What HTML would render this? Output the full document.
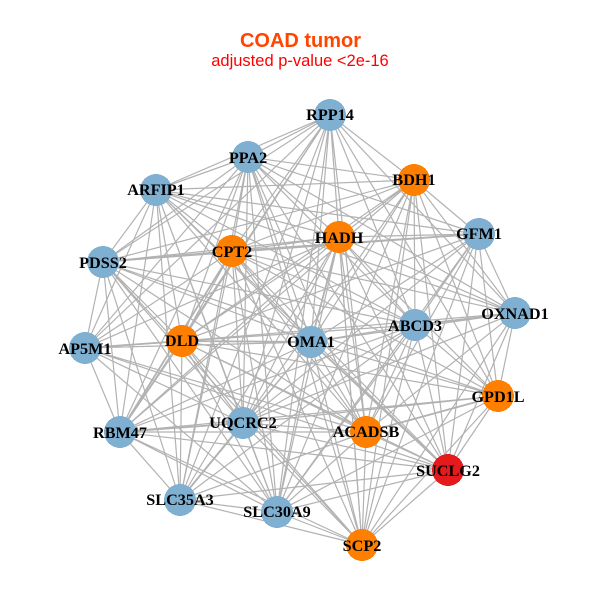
<!DOCTYPE html>
<html><head><meta charset="utf-8"><style>
html,body{margin:0;padding:0;background:#fff}
svg{display:block}
.l{font:bold 16.2px "Liberation Serif",serif;fill:#000;text-anchor:middle}
.t{font-family:"Liberation Sans",sans-serif;text-anchor:middle}
circle{shape-rendering:crispEdges}
</style></head><body>
<svg width="600" height="600" viewBox="0 0 600 600" xmlns="http://www.w3.org/2000/svg">
<rect width="600" height="600" fill="#fff"/>
<text class="t" x="300.5" y="47" font-size="20" font-weight="bold" fill="#FF4500">COAD tumor</text>
<text class="t" x="300" y="66" font-size="16.5" fill="#FF0000">adjusted p-value &lt;2e-16</text>
<g fill="none" stroke="#B2B2B2" stroke-width="1.2">
<path d="M330 115L248 157M330 115L414 180M330 115L156 190M330 115L339 237M330 115L232 251M330 115L103 262M330 115L415 325M330 115L311 342M330 115L182 341M330 115L85 348M330 115L120 432M330 115L243 423M330 115L366 432M330 115L180 500M330 115L277 512M330 115L362 545M330 115L498 396M330 115L515 313"/>
<path d="M248 157L156 190M248 157L414 180M248 157L339 237M248 157L478 234M248 157L232 251M248 157L103 262M248 157L415 325M248 157L311 342M248 157L182 341M248 157L85 348M248 157L120 432M248 157L243 423M248 157L366 432M248 157L448 470M248 157L180 500M248 157L277 512M248 157L362 545M248 157L515 313"/>
<path d="M414 180L478 234M414 180L339 237M414 180L232 251M414 180L103 262M414 180L515 313M414 180L415 325M414 180L311 342M414 180L182 341M414 180L498 396M414 180L120 432M414 180L243 423M414 180L366 432M414 180L448 470M414 180L277 512M414 180L362 545M414 180L156 190"/>
<path d="M156 190L339 237M156 190L478 234M156 190L232 251M156 190L103 262M156 190L415 325M156 190L311 342M156 190L182 341M156 190L85 348M156 190L120 432M156 190L243 423M156 190L366 432M156 190L448 470M156 190L180 500M156 190L277 512M156 190L515 313"/>
<path d="M339 237L478 234M339 237L232 251M339 237L103 262M339 237L515 313M339 237L415 325M339 237L311 342M339 237L182 341M339 237L85 348M339 237L498 396M339 237L120 432M339 237L243 423M339 237L366 432M339 237L448 470M339 237L180 500M339 237L277 512M339 237L362 545"/>
<path d="M478 234L232 251M478 234L103 262M478 234L515 313M478 234L415 325M478 234L182 341M478 234L311 342M478 234L498 396M478 234L243 423M478 234L366 432M478 234L448 470M478 234L362 545M478 234L277 512"/>
<path d="M232 251L103 262M232 251L515 313M232 251L415 325M232 251L311 342M232 251L182 341M232 251L85 348M232 251L498 396M232 251L120 432M232 251L243 423M232 251L366 432M232 251L448 470M232 251L180 500M232 251L277 512M232 251L362 545"/>
<path d="M103 262L415 325M103 262L311 342M103 262L182 341M103 262L85 348M103 262L120 432M103 262L243 423M103 262L366 432M103 262L180 500M103 262L277 512M103 262L362 545M103 262L498 396"/>
<path d="M515 313L415 325M515 313L311 342M515 313L182 341M515 313L498 396M515 313L243 423M515 313L366 432M515 313L448 470M515 313L362 545"/>
<path d="M415 325L311 342M415 325L182 341M415 325L85 348M415 325L498 396M415 325L120 432M415 325L243 423M415 325L366 432M415 325L448 470M415 325L180 500M415 325L277 512M415 325L362 545"/>
<path d="M311 342L182 341M311 342L85 348M311 342L498 396M311 342L120 432M311 342L243 423M311 342L366 432M311 342L448 470M311 342L180 500M311 342L277 512M311 342L362 545"/>
<path d="M182 341L85 348M182 341L498 396M182 341L120 432M182 341L243 423M182 341L366 432M182 341L448 470M182 341L180 500M182 341L277 512M182 341L362 545"/>
<path d="M85 348L120 432M85 348L243 423M85 348L366 432M85 348L448 470M85 348L277 512"/>
<path d="M498 396L243 423M498 396L366 432M498 396L448 470M498 396L277 512M498 396L362 545M498 396L120 432"/>
<path d="M120 432L243 423M120 432L366 432M120 432L448 470M120 432L180 500M120 432L277 512M120 432L362 545"/>
<path d="M243 423L366 432M243 423L448 470M243 423L180 500M243 423L277 512M243 423L362 545"/>
<path d="M366 432L448 470M366 432L180 500M366 432L277 512M366 432L362 545"/>
<path d="M448 470L180 500M448 470L277 512M448 470L362 545M180 500L277 512M180 500L362 545M277 512L362 545"/>
</g>
<g fill="none" stroke="#B2B2B2" stroke-width="1.8">
<path d="M103 262L232 251M232 251L478 234M182 341L311 342M85 348L182 341M415 325L515 313M120 432L232 251M366 432L498 396M339 237L311 342M120 432L243 423M311 342L448 470M243 423L180 500"/>
</g>
<g>
<circle cx="330" cy="115" r="16" fill="#7FB0D2"/>
<circle cx="248" cy="157" r="16" fill="#7FB0D2"/>
<circle cx="414" cy="180" r="16" fill="#FF7F00"/>
<circle cx="156" cy="190" r="16" fill="#7FB0D2"/>
<circle cx="339" cy="237" r="16" fill="#FF7F00"/>
<circle cx="479" cy="234" r="16" fill="#7FB0D2"/>
<circle cx="232" cy="251" r="16" fill="#FF7F00"/>
<circle cx="103" cy="262" r="16" fill="#7FB0D2"/>
<circle cx="515" cy="313" r="16" fill="#7FB0D2"/>
<circle cx="415" cy="325" r="16" fill="#7FB0D2"/>
<circle cx="311" cy="342" r="16" fill="#7FB0D2"/>
<circle cx="182" cy="341" r="16" fill="#FF7F00"/>
<circle cx="85" cy="348" r="16" fill="#7FB0D2"/>
<circle cx="498" cy="396" r="16" fill="#FF7F00"/>
<circle cx="120" cy="432" r="16" fill="#7FB0D2"/>
<circle cx="243" cy="423" r="16" fill="#7FB0D2"/>
<circle cx="366" cy="432" r="16" fill="#FF7F00"/>
<circle cx="448" cy="470" r="16" fill="#E41A1C"/>
<circle cx="180" cy="500" r="16" fill="#7FB0D2"/>
<circle cx="277" cy="512" r="16" fill="#7FB0D2"/>
<circle cx="362" cy="545" r="16" fill="#FF7F00"/>
</g>
<g>
<text class="l" x="330" y="120">RPP14</text>
<text class="l" x="248" y="163">PPA2</text>
<text class="l" x="414" y="185">BDH1</text>
<text class="l" x="156" y="195">ARFIP1</text>
<text class="l" x="339" y="243">HADH</text>
<text class="l" x="479" y="239">GFM1</text>
<text class="l" x="232" y="257">CPT2</text>
<text class="l" x="103" y="268">PDSS2</text>
<text class="l" x="515" y="319">OXNAD1</text>
<text class="l" x="415" y="331">ABCD3</text>
<text class="l" x="311" y="347">OMA1</text>
<text class="l" x="182" y="346">DLD</text>
<text class="l" x="85" y="354">AP5M1</text>
<text class="l" x="498" y="402">GPD1L</text>
<text class="l" x="120" y="438">RBM47</text>
<text class="l" x="243" y="428">UQCRC2</text>
<text class="l" x="366" y="437">ACADSB</text>
<text class="l" x="448" y="476">SUCLG2</text>
<text class="l" x="180" y="505">SLC35A3</text>
<text class="l" x="277" y="517">SLC30A9</text>
<text class="l" x="362" y="551">SCP2</text>
</g>
</svg>
</body></html>
